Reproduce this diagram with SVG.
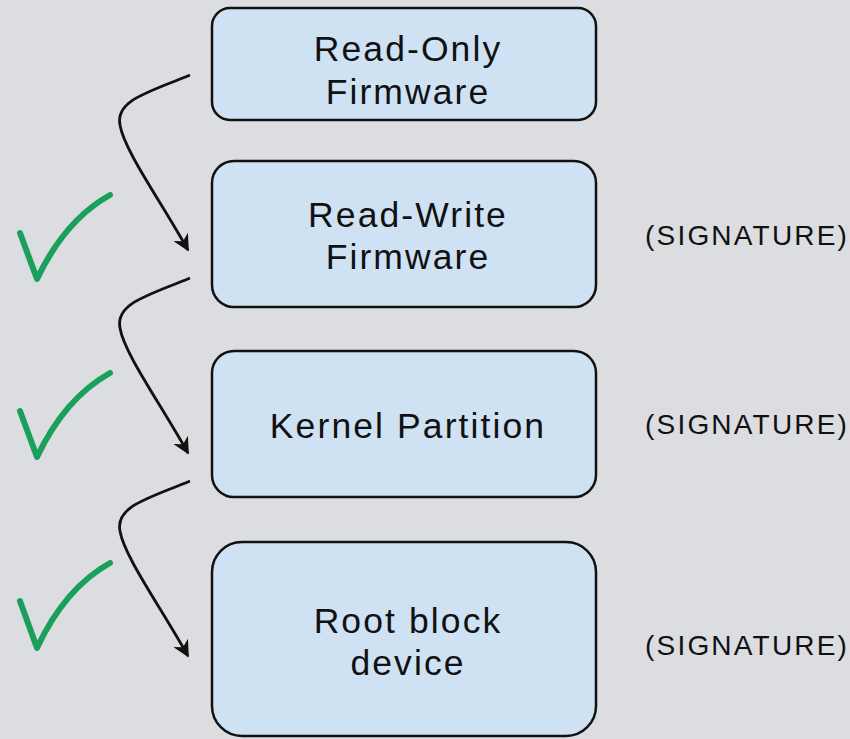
<svg xmlns="http://www.w3.org/2000/svg" width="850" height="739" viewBox="0 0 850 739">
<defs>
<style>
.box{fill:#cfe2f3;stroke:#111;stroke-width:2.5}
.t{font-family:"Liberation Sans",Arial,sans-serif;font-size:35.5px;letter-spacing:2.1px;fill:#111;text-anchor:middle}
.sig{font-family:"Liberation Sans",Arial,sans-serif;font-size:28px;letter-spacing:2.2px;fill:#111}
.conn{fill:none;stroke:#111;stroke-width:2.8;marker-end:url(#ah)}
.chk{fill:none;stroke:#1aa05c;stroke-width:6;stroke-linecap:round;stroke-linejoin:round}
</style>
<marker id="ah" viewBox="0 0 10 10" refX="9" refY="5" markerWidth="7.5" markerHeight="6" markerUnits="strokeWidth" orient="auto">
<path d="M0,0 L10,5 L0,10 L3,5 z" fill="#111"/>
</marker>
</defs>
<rect width="850" height="739" fill="#dcdde0"/>
<g id="n1"><rect class="box" x="212" y="8" width="384" height="112" rx="18"/><text class="t" x="408" y="61">Read-Only</text><text class="t" x="408" y="104">Firmware</text></g>
<g id="n2"><rect class="box" x="212" y="161" width="384" height="146" rx="22"/><text class="t" x="408" y="227">Read-Write</text><text class="t" x="408" y="269">Firmware</text></g>
<g id="n3"><rect class="box" x="212" y="351" width="384" height="146" rx="22"/><text class="t" x="408" y="438">Kernel Partition</text></g>
<g id="n4"><rect class="box" x="212" y="542" width="384" height="194" rx="30"/><text class="t" x="408" y="633">Root block</text><text class="t" x="408" y="675">device</text></g>
<g id="sig"><text class="sig" x="645" y="245">(SIGNATURE)</text><text class="sig" x="645" y="434">(SIGNATURE)</text><text class="sig" x="645" y="655">(SIGNATURE)</text></g>
<g id="checks">
<path class="chk" d="M20,233 L37,279 Q65,220 110,195"/>
<path class="chk" d="M20,411 L37,457 Q65,398 110,373"/>
<path class="chk" d="M20,601 L37,648 Q65,588 110,563"/>
</g>
<g id="connectors">
<path class="conn" d="M190,75 C150,92 115,100 120,125 C124,150 160,200 188,250"/>
<path class="conn" d="M190,278 C150,295 115,303 120,328 C124,353 160,403 188,453"/>
<path class="conn" d="M190,481 C150,498 115,506 120,531 C124,556 160,606 188,656"/>
</g>
</svg>
